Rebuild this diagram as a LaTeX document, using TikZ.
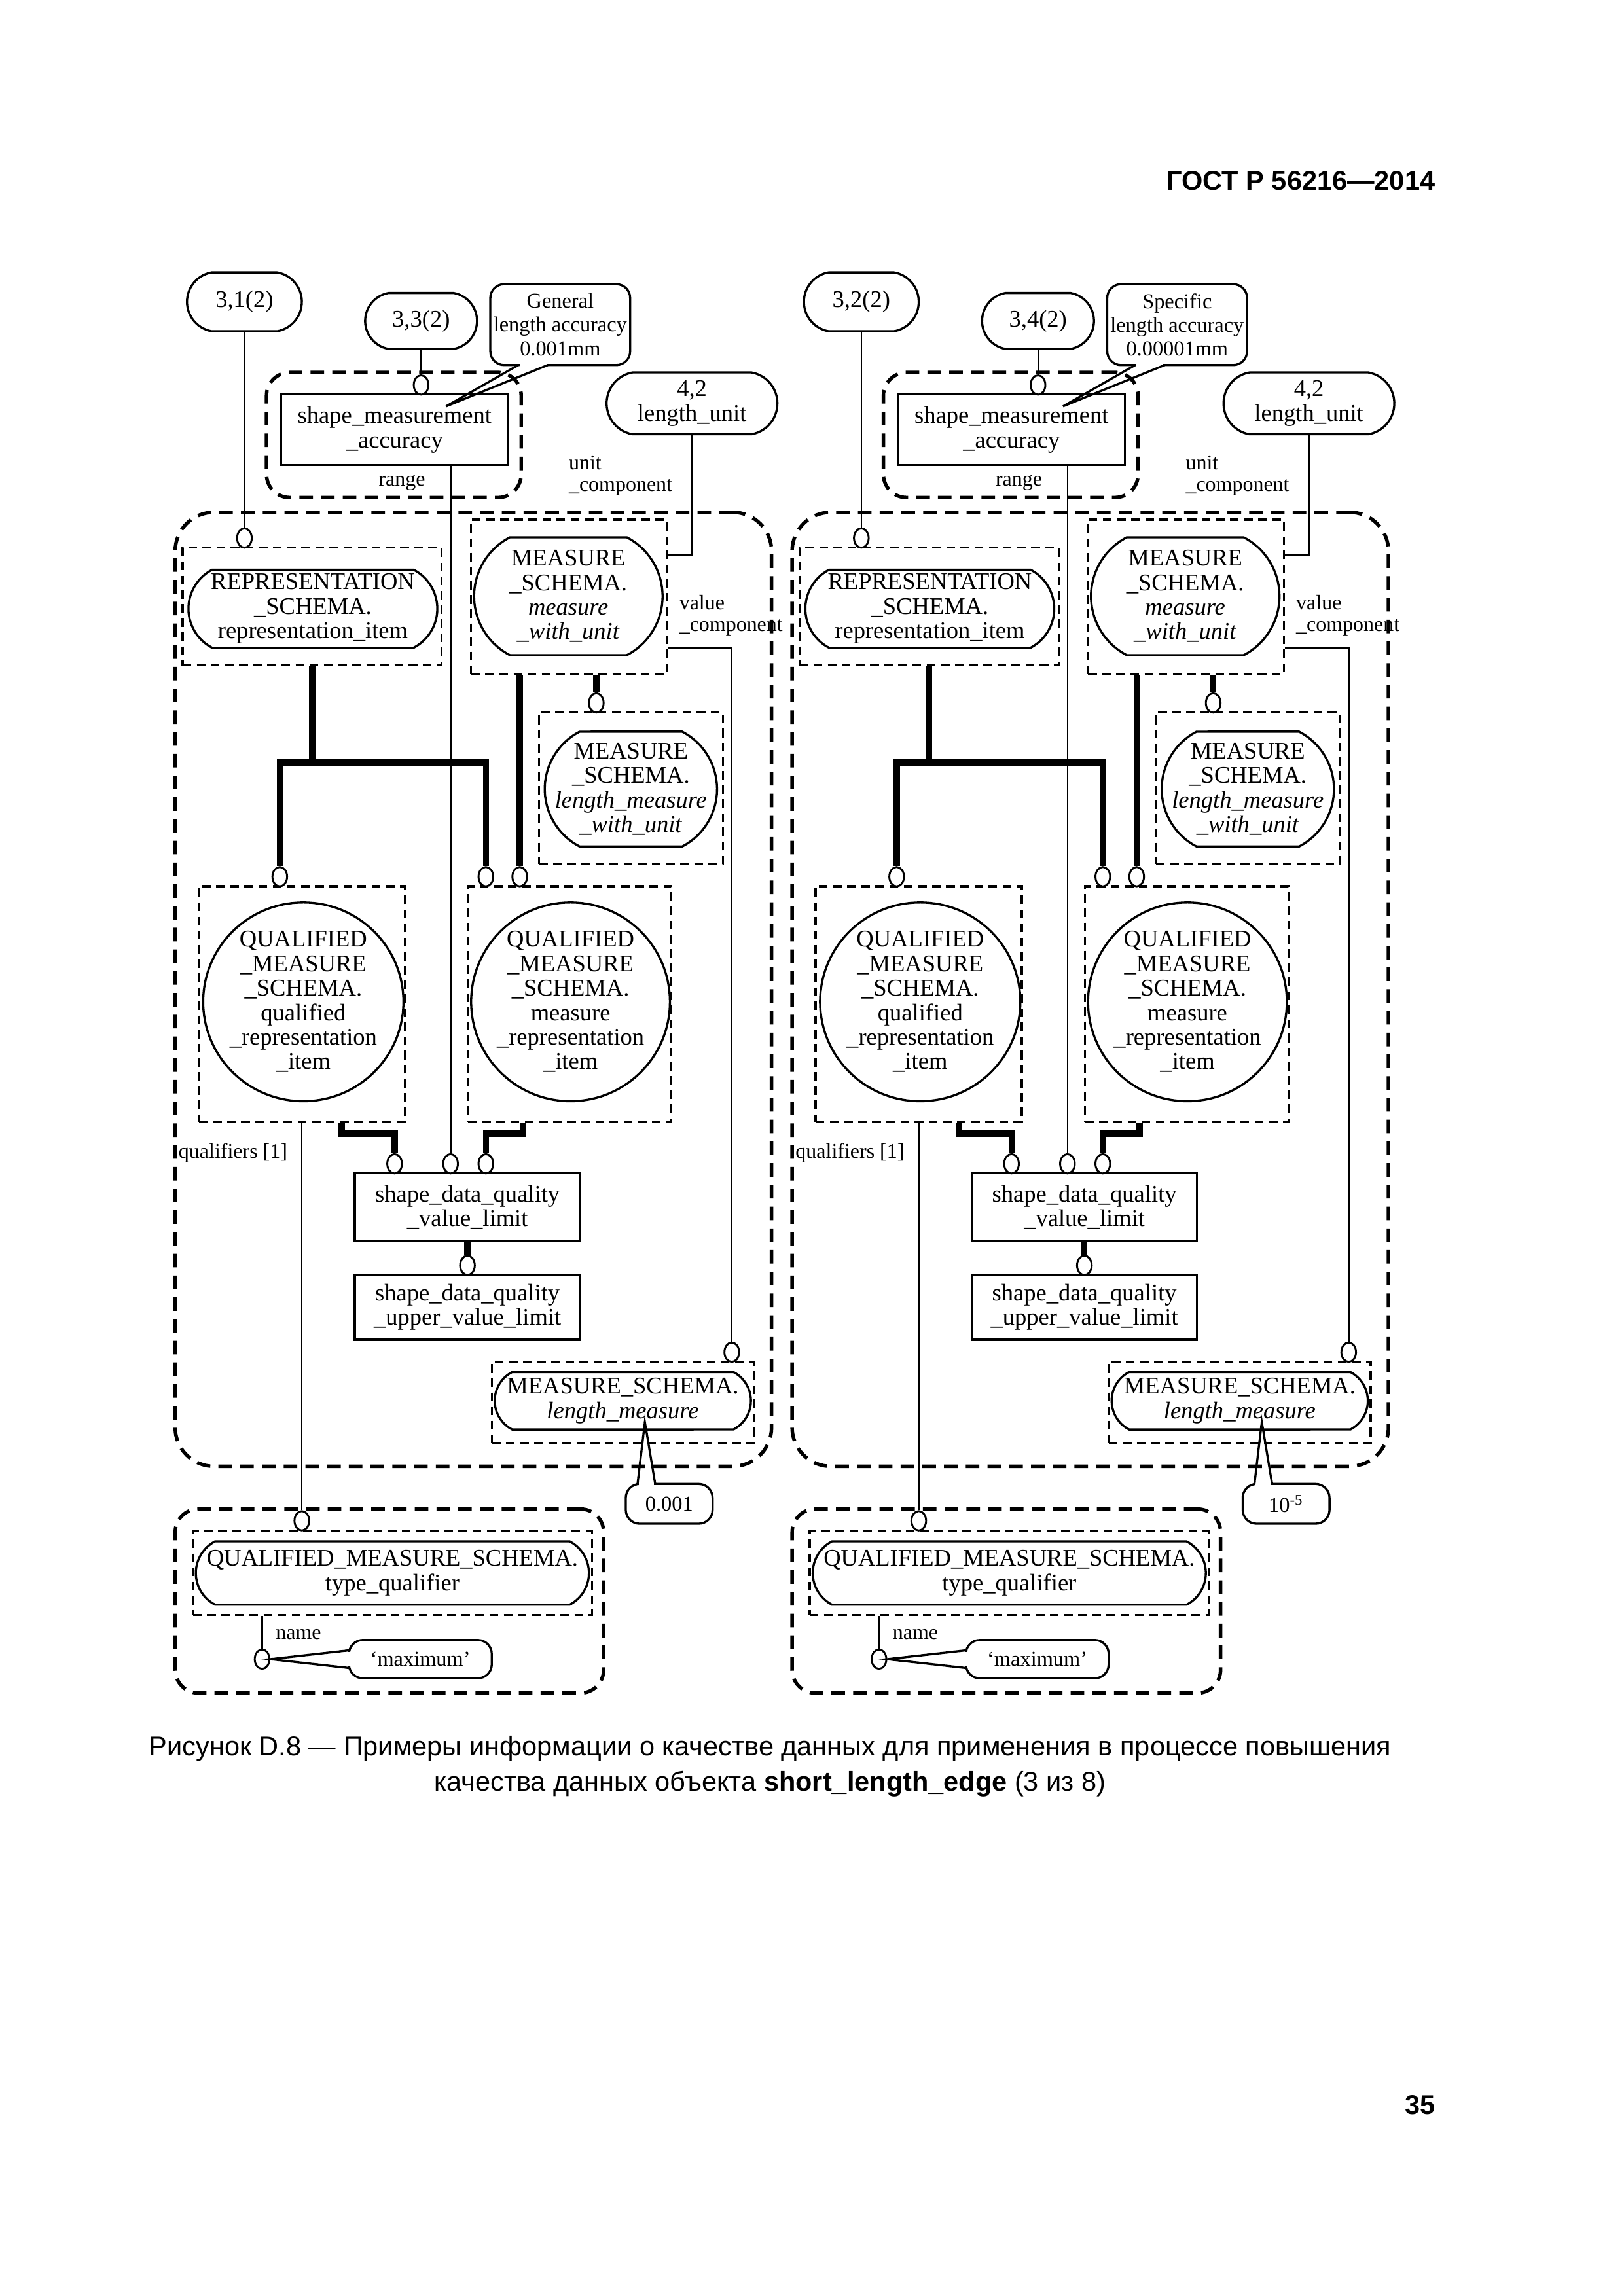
\documentclass[tikz,border=0pt]{standalone}
\usepackage{fontspec}
\setmainfont{Liberation Serif}
\newfontfamily\arialfont{Liberation Sans}
\usetikzlibrary{fit,shapes.geometric,shapes.misc,calc}

\tikzset{
  txt/.style={font=\fontsize{8.8}{9}\selectfont, align=center, inner sep=0pt},
  ctxt/.style={font=\fontsize{7.8}{8.7}\selectfont, align=center, inner sep=0pt},
  lbl/.style={font=\fontsize{7.7}{8}\selectfont, align=left, inner sep=0pt, anchor=west},
  ltxt/.style={font=\fontsize{7.7}{8}\selectfont, inner sep=0pt},
  sz/.style 2 args={minimum width=#1*0.019039cm, minimum height=#2*0.019039cm},
  solidbox/.style={draw, line width=0.8pt, inner sep=0pt},
  stadA/.style={draw, line width=0.8pt, rounded rectangle, rounded rectangle arc length=160, inner sep=0pt},
  stadB/.style={draw, line width=0.8pt, rounded rectangle, rounded rectangle arc length=125, inner sep=0pt},
  oval/.style={draw, ellipse, line width=0.8pt, inner sep=0pt},
  bigdash/.style={draw, line width=1.3pt, dash pattern=on 5pt off 3pt, rounded corners=0.3cm, inner sep=0pt},
  smalldash/.style={draw, line width=0.8pt, dash pattern=on 3.2pt off 2pt, inner sep=0pt},
  circ/.style={draw, ellipse, line width=0.7pt, minimum width=0.19cm, minimum height=0.25cm, inner sep=0pt, fill=white},
  thinl/.style={line width=0.6pt},
  heavy/.style={line width=2.3pt},
  callout/.style={draw, line width=0.8pt, rounded corners=0.18cm, inner sep=0pt},
}

\newcommand\halfdiag[6]{%
\begin{scope}[shift={(#2,0)}]
% labels
\node[ltxt] (#1rng) at (273,328) {range};
\node[lbl] (#1uc) at (386,323) {unit\\\_component};
\node[lbl] (#1vc) at (461,418) {value\\\_component};
\node[lbl] (#1ql) at (121,783) {qualifiers [1]};
\node[lbl] (#1nm) at (187,1110) {name};
% groups
\node[bigdash, fit={(181,253) (354,338)}] (#1RG) {};
\node[bigdash, rounded corners=0.5cm, fit={(119,348) (524,996)}] (#1G) {};
\node[bigdash, fit={(119,1025) (410,1150)}] (#1BG) {};
% dashed boxes
\node[smalldash, fit={(124,372) (300,452)}] (#1R) {};
\node[smalldash, fit={(320,353) (453,458)}] (#1M) {};
\node[smalldash, fit={(366,484) (491,587)}] (#1L) {};
\node[smalldash, fit={(135,602) (275,762)}] (#1QL) {};
\node[smalldash, fit={(318,602) (456,762)}] (#1QR) {};
\node[smalldash, fit={(334,925) (512,980)}] (#1LM) {};
\node[smalldash, fit={(131,1040) (402,1097)}] (#1TB) {};
% shapes with text
\node[stadA, sz={78}{40}] (#1T1) at (166,205) {};
\node[txt] (#1T1t) at (#1T1) {#3};
\node[stadA, sz={76}{38}] (#1T2) at (286,218) {};
\node[txt] (#1T2t) at (#1T2) {#4};
\node[stadA, sz={116}{42}] (#1U) at (470,274) {};
\node[txt] (#1Ut) at (#1U) {4,2\\length\_unit};
\node[solidbox, fit={(191,268) (345,316)}] (#1SM) {};
\node[txt] (#1SMt) at (#1SM) {shape\_measurement\\\_accuracy};
\node[stadB, sz={169}{53}] (#1Rn) at (212.5,413.5) {};
\node[txt] (#1Rt) at (#1Rn) {REPRESENTATION\\\_SCHEMA.\\representation\_item};
\node[stadB, sz={128}{80}] (#1Mn) at (386,405) {};
\node[txt] (#1Mt) at (#1Mn) {MEASURE\\\_SCHEMA.\\\textit{measure}\\\textit{\_with\_unit}};
\node[stadB, sz={117}{78}] (#1Ln) at (428.5,536) {};
\node[txt] (#1Lt) at (#1Ln) {MEASURE\\\_SCHEMA.\\\textit{length\_measure}\\\textit{\_with\_unit}};
\node[oval, sz={136}{135}] (#1QLn) at (206,680.5) {};
\node[txt] (#1QLt) at (#1QLn) {QUALIFIED\\\_MEASURE\\\_SCHEMA.\\qualified\\\_representation\\\_item};
\node[oval, sz={135}{135}] (#1QRn) at (387.5,680.5) {};
\node[txt] (#1QRt) at (#1QRn) {QUALIFIED\\\_MEASURE\\\_SCHEMA.\\measure\\\_representation\\\_item};
\node[solidbox, fit={(241,797) (394,843)}] (#1SDQ) {};
\node[txt] (#1SDQt) at (#1SDQ) {shape\_data\_quality\\\_value\_limit};
\node[solidbox, fit={(241,866) (394,910)}] (#1SDU) {};
\node[txt] (#1SDUt) at (#1SDU) {shape\_data\_quality\\\_upper\_value\_limit};
\node[stadB, sz={174}{39}] (#1LMn) at (423,951.5) {};
\node[txt] (#1LMt) at (#1LMn) {MEASURE\_SCHEMA.\\\textit{length\_measure}};
\node[stadB, sz={267}{43}] (#1TQ) at (266.5,1068.5) {};
\node[txt] (#1TQt) at (#1TQ) {QUALIFIED\_MEASURE\_SCHEMA.\\type\_qualifier};
% callouts
\node[callout, fill=white, fit={(333,193) (428,248)}] (#1C1) {};
\node[ctxt] (#1C1t) at (#1C1) {#5};
\node[callout, fill=white, fit={(425,1008) (484,1035)}] (#1V) {};
\node[ctxt] (#1Vt) at (#1V) {#6};
\node[callout, fill=white, fit={(237,1114) (334,1140)}] (#1MX) {};
\node[ctxt] (#1MXt) at (#1MX) {`maximum'};
% circles
\node[circ] (#1c1) at (166,365.5) {};
\node[circ] (#1c2) at (286,261.5) {};
\node[circ] (#1cm) at (405,477.5) {};
\node[circ] (#1cq1) at (190,595.5) {};
\node[circ] (#1cq2) at (330,595.5) {};
\node[circ] (#1cq3) at (353,595.5) {};
\node[circ] (#1cs) at (306,790.5) {};
\node[circ] (#1ca) at (268,790.5) {};
\node[circ] (#1cb) at (330,790.5) {};
\node[circ] (#1cd) at (317.5,859.5) {};
\node[circ] (#1cf) at (497,918.5) {};
\node[circ] (#1ce) at (205,1033) {};
\node[circ] (#1cg) at (178,1127) {};
% connectors
\draw[thinl] (#1T1.south) -- (#1c1.north);
\draw[thinl] (#1T2.south) -- (#1c2.north);
\draw[thinl] (#1U.south) |- ($(#1M.north east)+(0,25)$);
\coordinate (#1j) at (212,518);
\draw[heavy] (#1R.south) -- (#1j);
\draw[heavy] (#1cq1.north) -- (#1cq1.north |- #1j) -- (#1cq2.north |- #1j) -- (#1cq2.north);
\draw[heavy] (#1M.south -| #1cq3) -- (#1cq3.north);
\draw[heavy] (#1M.south -| #1cm) -- (#1cm.north);
\draw[thinl] (#1SM.south -| #1cs) -- (#1cs.north);
\coordinate (#1k1) at (232,770);
\draw[heavy] (#1QL.south -| #1k1) -- (#1k1) -| (#1ca.north);
\coordinate (#1k2) at (355,770);
\draw[heavy] (#1QR.south -| #1k2) -- (#1k2) -| (#1cb.north);
\draw[heavy] (#1SDQ.south) -- (#1cd.north);
\draw[thinl] (#1QL.south) -- (#1ce.north);
\coordinate (#1k3) at (497,440);
\draw[thinl] (#1M.east |- #1k3) -- (#1k3) -- (#1cf.north);
\draw[thinl] (#1TB.south -| #1cg) -- (#1cg.north);
% callout pointers
\coordinate (#1p1) at (352,248);
\coordinate (#1p2) at (372,248);
\coordinate (#1t1) at (303,276);
\fill[white] ($(#1p1)+(0.9,-2)$) rectangle ($(#1p2)+(-0.9,2)$);
\draw[line width=0.8pt] (#1p1) -- (#1t1) -- (#1p2);
\coordinate (#1p3) at (433,1008);
\coordinate (#1p4) at (445,1008);
\coordinate (#1t2) at (438,966);
\fill[white] ($(#1p3)+(0.9,-2)$) rectangle ($(#1p4)+(-0.9,2)$);
\draw[line width=0.8pt] (#1p3) -- (#1t2) -- (#1p4);
\coordinate (#1p5) at (237,1121);
\coordinate (#1p6) at (237,1133);
\fill[white] ($(#1p5)+(-2,0.9)$) rectangle ($(#1p6)+(2,-0.9)$);
\draw[line width=0.8pt] (#1p5) -- (#1cg.east) -- (#1p6);
\end{scope}}

\begin{document}
\begin{tikzpicture}[x=0.019039cm, y=-0.019039cm]
\useasboundingbox (0,0) rectangle (1103,1559.6);
\fill[white] (0,0) rectangle (1103,1559.6);
\node[anchor=east, inner sep=0pt, font=\arialfont\bfseries\fontsize{10}{12}\selectfont] (hdr) at (975,123) {ГОСТ Р 56216—2014};
\node[anchor=east, inner sep=0pt, font=\arialfont\bfseries\fontsize{10}{12}\selectfont] (pg) at (975,1430) {35};
\node[align=center, inner sep=0pt, font=\arialfont\fontsize{10}{13}\selectfont] (cap) at (523,1200)
  {Рисунок D.8 — Примеры информации о качестве данных для применения в процессе повышения\\
   качества данных объекта \textbf{short\_length\_edge} (3 из 8)};
\halfdiag{a}{0}{3,1(2)}{3,3(2)}{General\\length accuracy\\0.001mm}{0.001}
\halfdiag{b}{419}{3,2(2)}{3,4(2)}{Specific\\length accuracy\\0.00001mm}{10\textsuperscript{-5}}
\end{tikzpicture}
\end{document}
